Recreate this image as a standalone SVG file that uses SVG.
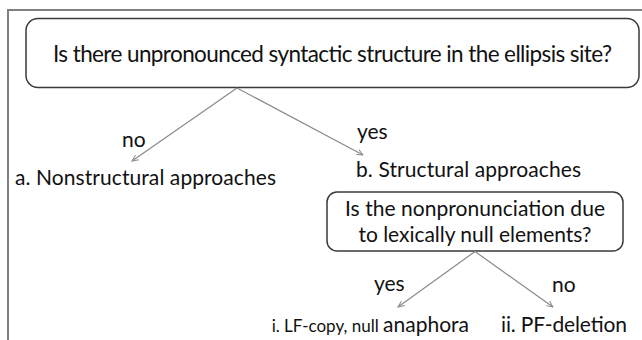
<svg xmlns="http://www.w3.org/2000/svg" width="642" height="340" viewBox="0 0 642 340">
  <style>
    .box { fill: #ffffff; stroke: #3a3a3a; stroke-width: 1.5; }
    .frame { fill: none; stroke: #808080; stroke-width: 2; }
    .conn { fill: none; stroke: #8a8a8a; stroke-width: 1.2; }
    .t { font-family: Lato, "Open Sans", "Liberation Sans", sans-serif; font-size: 21px; fill: #111111; }
    .s { font-size: 17px; }
  </style>
  <defs>
    <marker id="arr" viewBox="0 0 10 10" refX="9" refY="5" markerWidth="7" markerHeight="7" markerUnits="userSpaceOnUse" orient="auto">
      <path d="M0,1 L9,5 L0,9" fill="none" stroke="#8a8a8a" stroke-width="1.4"/>
    </marker>
  </defs>
  <rect width="642" height="340" fill="#ffffff"/>
  <path class="frame" d="M8,340 L8,10 L642,10"/>

  <g id="q1">
    <rect class="box" x="26" y="18.5" width="613" height="69" rx="12" ry="12"/>
    <text class="t" x="332.5" y="62" text-anchor="middle" textLength="559" style="font-size:22.5px">Is there unpronounced syntactic structure in the ellipsis site?</text>
  </g>

  <g id="a">
    <text class="t" x="15" y="185" textLength="261">a. Nonstructural approaches</text>
  </g>

  <g id="b">
    <text class="t" x="356" y="177" textLength="225">b. Structural approaches</text>
  </g>

  <g id="q2">
    <rect class="box" x="327" y="192" width="296" height="59" rx="10" ry="10"/>
    <text class="t" x="475" y="216" text-anchor="middle" textLength="260">Is the nonpronunciation due</text>
    <text class="t" x="475" y="242" text-anchor="middle" textLength="233">to lexically null elements?</text>
  </g>

  <g id="bi">
    <text class="t" x="469" y="332" text-anchor="end"><tspan class="s">i. LF-copy, null </tspan>anaphora</text>
  </g>

  <g id="bii">
    <text class="t" x="501" y="332" textLength="126">ii. PF-deletion</text>
  </g>

  <g id="connectors">
    <line class="conn" x1="237" y1="88" x2="132" y2="161" marker-end="url(#arr)"/>
    <line class="conn" x1="237" y1="88" x2="363" y2="155" marker-end="url(#arr)"/>
    <line class="conn" x1="475" y1="251.5" x2="398" y2="307" marker-end="url(#arr)"/>
    <line class="conn" x1="475" y1="251.5" x2="553" y2="307" marker-end="url(#arr)"/>
    <text class="t" x="122" y="147">no</text>
    <text class="t" x="357" y="139">yes</text>
    <text class="t" x="374" y="291">yes</text>
    <text class="t" x="552" y="292">no</text>
  </g>
</svg>
